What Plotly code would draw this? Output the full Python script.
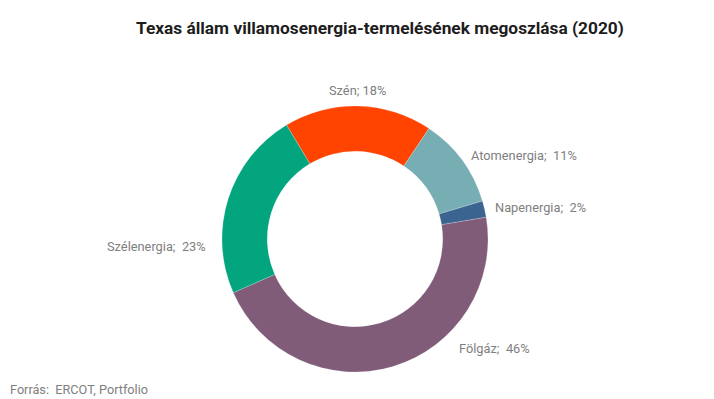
import plotly.graph_objects as go

categories = ["Szén", "Atomenergia", "Napenergia", "Fölgáz", "Szélenergia"]
values = [18, 11, 2, 46, 23]
colors = ["#ff4300", "#76aeb3", "#3b6590", "#805c78", "#02a57e"]
label_texts = ["Szén; 18%", "Atomenergia;\u00a0 11%", "Napenergia;\u00a0 2%",
               "Fölgáz;\u00a0 46%", "Szélenergia;\u00a0 23%"]

W, H = 714, 399
cx, cy, R = 355, 239, 133

fig = go.Figure(go.Pie(
    labels=categories,
    values=values,
    marker=dict(colors=colors, line=dict(color="rgba(255,255,255,0.4)", width=0.5)),
    hole=0.66,
    sort=False,
    direction="clockwise",
    rotation=-31,
    textinfo="none",
    hoverinfo="label+percent",
    showlegend=False,
    domain=dict(x=[(cx - R) / W, (cx + R) / W], y=[1 - (cy + R) / H, 1 - (cy - R) / H]),
))

# label positions (pixel centres) in the same order as categories
label_pos = [(357, 90), (524, 155), (540, 207), (494, 348), (156, 246)]
for txt, (x, y) in zip(label_texts, label_pos):
    fig.add_annotation(x=x / W, y=1 - y / H, xref="paper", yref="paper",
                       text=txt, showarrow=False, xanchor="center", yanchor="middle",
                       font=dict(family="Roboto", size=12.8, color="#808080"))

fig.add_annotation(x=380 / W, y=1 - 28 / H, xref="paper", yref="paper",
                   text="<b>Texas állam villamosenergia-termelésének megoszlása (2020)</b>",
                   showarrow=False, xanchor="center", yanchor="middle",
                   font=dict(family="Roboto", size=17.3, color="#1d1d1d"))

fig.add_annotation(x=8 / W, y=1 - 389 / H, xref="paper", yref="paper",
                   text="Forrás:\u00a0 ERCOT, Portfolio", showarrow=False,
                   xanchor="left", yanchor="middle",
                   font=dict(family="Roboto", size=12.7, color="#808080"))

fig.update_layout(width=W, height=H, margin=dict(l=0, r=0, t=0, b=0),
                  paper_bgcolor="white", plot_bgcolor="white")

fig.write_html("out.html", config={"displayModeBar": False},
               post_script="document.body.style.margin='0';document.body.style.overflow='hidden';")
